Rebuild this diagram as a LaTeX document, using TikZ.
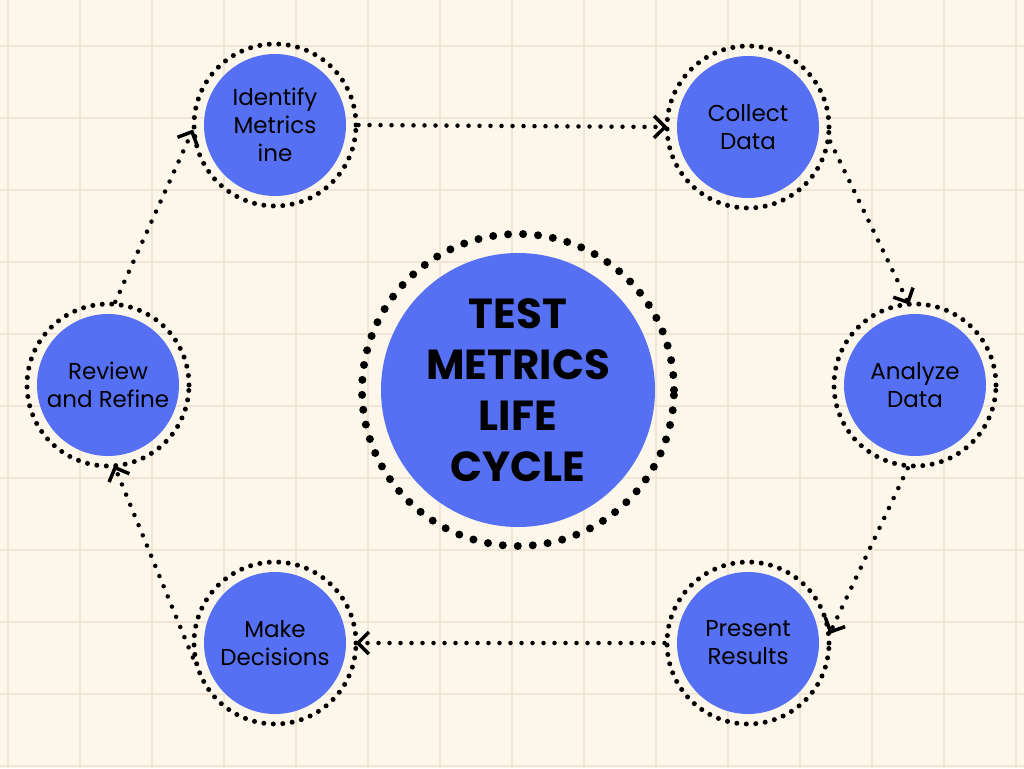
\documentclass[tikz,border=0pt]{standalone}
\usepackage{fontspec}
\setmainfont{Poppins}
\usetikzlibrary{arrows.meta}
\definecolor{bg}{HTML}{FCF7EA}
\definecolor{gridc}{HTML}{F1E6D6}
\definecolor{blu}{HTML}{5570F2}
\begin{document}
\begin{tikzpicture}[x=1pt,y=-1pt,
  ring/.style={circle,minimum size=162pt,draw=black,line width=5pt,dash pattern=on 0pt off 9.5pt,line cap=round,inner sep=0pt},
  disc/.style={circle,fill=blu,minimum size=142pt,inner sep=0pt,align=center,font=\fontsize{23}{28}\selectfont},
  flow/.style={line width=4.5pt,dash pattern=on 0pt off 11pt,line cap=round,-{Straight Barb[length=11pt,width=22pt,line width=3.5pt,sep=-3pt]}}]
\fill[bg] (0,0) rectangle (1024,768);
\useasboundingbox (0,0) rectangle (1024,768);
\foreach \x in {8,80,...,1024} \draw[gridc,line width=2.5pt] (\x,0) -- (\x,768);
\foreach \y in {46,118,...,768} \draw[gridc,line width=2.5pt] (0,\y) -- (1024,\y);
\foreach \n/\x/\y/\t in {id/275/125/{Identify\\Metrics\\ine},co/748/127/{Collect\\Data},an/915/385/{Analyze\\Data},pr/748/643/{Present\\Results},ma/275/643/{Make\\Decisions},re/108/385/{Review\\and Refine}}{
  \node[disc] (\n d) at (\x,\y) {\t};
  \node[ring] (\n) at (\x,\y) {};
}
\node[circle,fill=blu,minimum size=274pt,align=center,font=\bfseries\fontsize{42}{51}\selectfont] (cd) at (518,390) {TEST\\METRICS\\LIFE\\CYCLE};
\node[circle,minimum size=312pt,draw=black,line width=8pt,dash pattern=on 0pt off 15pt,line cap=round] (c) at (518,390) {};
\draw[flow] (id.east) -- (co.west);
\draw[flow] (co.-10) -- (an.95);
\draw[flow] (an.-95) -- (pr.8);
\draw[flow] (pr.west) -- (ma.east);
\draw[flow] (ma.190) -- (re.-85);
\draw[flow] (re.85) -- (id.185);
\end{tikzpicture}
\end{document}
